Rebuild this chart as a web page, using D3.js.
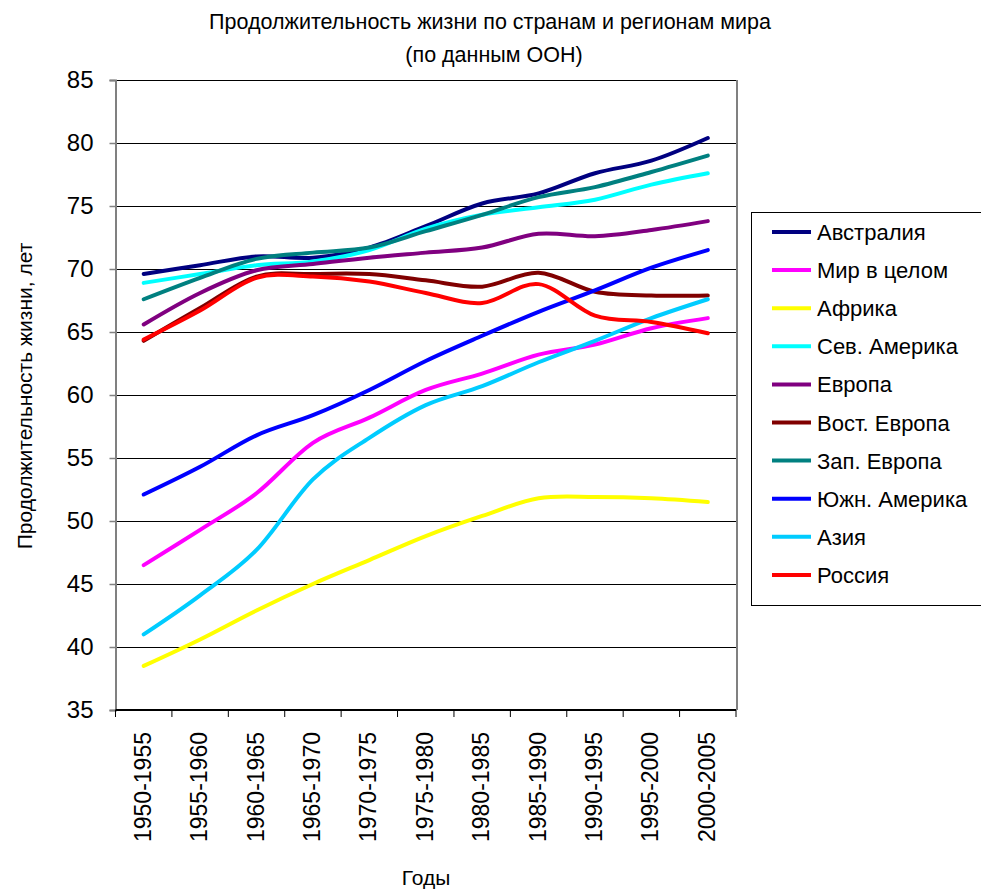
<!DOCTYPE html>
<html>
<head>
<meta charset="utf-8">
<script src="https://cdn.jsdelivr.net/npm/d3@7"></script>
<style>
  body { margin: 0; background: #fff; }
  text { font-family: "Liberation Sans", Arial, sans-serif; fill: #000; }
</style>
</head>
<body>
<div id="chart"></div>
<script>
// Categories (5-year periods)
const periods = ["1950-1955", "1955-1960", "1960-1965", "1965-1970", "1970-1975",
  "1975-1980", "1980-1985", "1985-1990", "1990-1995", "1995-2000", "2000-2005"];

// Life expectancy by region, years
const australia  = [69.6, 70.3, 71.0, 70.9, 71.7, 73.4, 75.2, 76.0, 77.6, 78.6, 80.4];
const world      = [46.5, 49.3, 52.2, 56.2, 58.2, 60.4, 61.7, 63.2, 64.0, 65.3, 66.1];
const africa     = [38.5, 40.6, 42.9, 45.0, 46.9, 48.8, 50.4, 51.8, 51.9, 51.8, 51.5];
const northAm    = [68.9, 69.6, 70.3, 70.6, 71.5, 73.2, 74.3, 74.9, 75.5, 76.7, 77.6];
const europe     = [65.6, 68.1, 69.9, 70.4, 70.9, 71.3, 71.7, 72.8, 72.6, 73.1, 73.8];
const eastEurope = [64.3, 66.9, 69.4, 69.6, 69.6, 69.1, 68.6, 69.7, 68.2, 67.9, 67.9];
const westEurope = [67.6, 69.3, 70.8, 71.3, 71.7, 73.0, 74.3, 75.7, 76.5, 77.7, 79.0];
const southAm    = [52.1, 54.3, 56.8, 58.4, 60.4, 62.7, 64.7, 66.6, 68.3, 70.1, 71.5];
const asia       = [41.0, 44.1, 47.7, 53.3, 56.6, 59.2, 60.7, 62.6, 64.3, 66.1, 67.6];
const russia     = [64.4, 66.7, 69.3, 69.4, 69.0, 68.1, 67.3, 68.8, 66.3, 65.8, 64.9];

const seriesNames = ["Австралия", "Мир в целом", "Африка", "Сев. Америка", "Европа",
  "Вост. Европа", "Зап. Европа", "Южн. Америка", "Азия", "Россия"];
const seriesValues = [australia, world, africa, northAm, europe,
  eastEurope, westEurope, southAm, asia, russia];
const seriesColors = ["#000080", "#ff00ff", "#ffff00", "#00ffff", "#800080",
  "#800000", "#008080", "#0000ff", "#00ccff", "#ff0000"];

const yTicks = [35, 40, 45, 50, 55, 60, 65, 70, 75, 80, 85];

const width = 981, height = 890;
const plot = { left: 115.5, right: 736, top: 80, bottom: 710 };

const svg = d3.select("#chart").append("svg")
  .attr("width", width)
  .attr("height", height);

const x = d3.scaleBand()
  .domain(periods)
  .range([plot.left, plot.right])
  .padding(0);

const y = d3.scaleLinear()
  .domain([35, 85])
  .range([plot.bottom, plot.top]);

// Gridlines
svg.append("g")
  .selectAll("line")
  .data(yTicks)
  .join("line")
  .attr("x1", plot.left)
  .attr("x2", plot.right)
  .attr("y1", d => Math.round(y(d)) + 0.5)
  .attr("y2", d => Math.round(y(d)) + 0.5)
  .attr("stroke", "#000")
  .attr("stroke-width", 1);

// Right border of plot area
svg.append("line")
  .attr("x1", plot.right + 1).attr("x2", plot.right + 1)
  .attr("y1", plot.top).attr("y2", plot.bottom)
  .attr("stroke", "#808080")
  .attr("stroke-width", 2);

// Y axis
const yAxis = svg.append("g")
  .attr("transform", `translate(${plot.left},0)`)
  .call(d3.axisLeft(y).tickValues(yTicks).tickSize(6).tickPadding(16));
yAxis.select(".domain").attr("stroke", "#808080").attr("stroke-width", 2);
yAxis.selectAll(".tick line").attr("stroke", "#808080").attr("stroke-width", 1.5);
yAxis.selectAll(".tick text")
  .style("font-family", "'Liberation Sans', Arial, sans-serif")
  .style("font-size", "24px")
  .attr("fill", "#000");

// X axis: ticks between categories
const xAxis = svg.append("g")
  .attr("transform", `translate(0,${plot.bottom})`);
xAxis.append("line")
  .attr("x1", plot.left).attr("x2", plot.right)
  .attr("stroke", "#000").attr("stroke-width", 2);
xAxis.selectAll("line.tick")
  .data(periods.concat(["end"]))
  .join("line")
  .attr("class", "tick")
  .attr("x1", (d, i) => i < periods.length ? x(d) : plot.right)
  .attr("x2", (d, i) => i < periods.length ? x(d) : plot.right)
  .attr("y1", 0).attr("y2", 7)
  .attr("stroke", "#000").attr("stroke-width", 1);
xAxis.selectAll("text")
  .data(periods)
  .join("text")
  .attr("transform", d => `translate(${x(d) + x.bandwidth() / 2 + 7},${22}) rotate(-90)`)
  .attr("text-anchor", "end")
  .style("font-size", "23px")
  .text(d => d);

// Lines
const line = d3.line()
  .x((d, i) => x(periods[i]) + x.bandwidth() / 2)
  .y(d => y(d))
  .curve(d3.curveCardinal.tension(0));

svg.append("g")
  .selectAll("path")
  .data(seriesValues)
  .join("path")
  .attr("d", d => line(d))
  .attr("fill", "none")
  .attr("stroke", (d, i) => seriesColors[i])
  .attr("stroke-width", 4)
  .attr("stroke-linecap", "round")
  .attr("stroke-linejoin", "round");

// Titles
svg.append("text")
  .attr("x", 490).attr("y", 29)
  .attr("text-anchor", "middle")
  .style("font-size", "21.5px")
  .text("Продолжительность жизни по странам и регионам мира");
svg.append("text")
  .attr("x", 494).attr("y", 62)
  .attr("text-anchor", "middle")
  .style("font-size", "21.5px")
  .text("(по данным ООН)");

svg.append("text")
  .attr("transform", `translate(32,${396}) rotate(-90)`)
  .attr("text-anchor", "middle")
  .style("font-size", "21px")
  .text("Продолжительность жизни, лет");

svg.append("text")
  .attr("x", 426).attr("y", 885)
  .attr("text-anchor", "middle")
  .style("font-size", "21px")
  .text("Годы");

// Legend
const legend = svg.append("g").attr("transform", "translate(751,212)");
legend.append("rect")
  .attr("x", 0.5).attr("y", 0.5)
  .attr("width", 240).attr("height", 393)
  .attr("fill", "#fff")
  .attr("stroke", "#000")
  .attr("stroke-width", 1);

const item = legend.selectAll("g.item")
  .data(seriesNames)
  .join("g")
  .attr("class", "item")
  .attr("transform", (d, i) => `translate(0,${20 + i * 38.1})`);
item.append("line")
  .attr("x1", 21).attr("x2", 60)
  .attr("stroke", (d, i) => seriesColors[i])
  .attr("stroke-width", 4);
item.append("text")
  .attr("x", 66).attr("y", 8)
  .style("font-size", "22px")
  .text(d => d);
</script>
</body>
</html>
